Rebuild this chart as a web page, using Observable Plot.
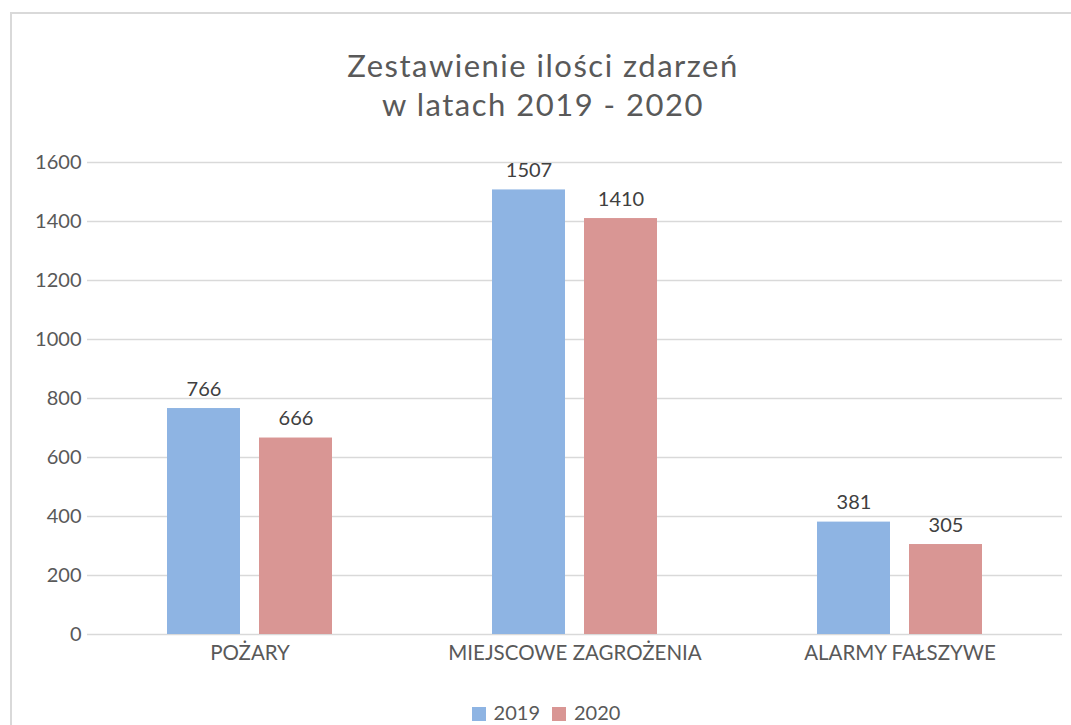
<!DOCTYPE html>
<html>
<head>
<meta charset="utf-8">
<script src="https://cdn.jsdelivr.net/npm/d3@7"></script>
<script src="https://cdn.jsdelivr.net/npm/@observablehq/plot@0.6"></script>
<style>
  html, body { margin: 0; padding: 0; background: #fff; width: 1071px; height: 725px; overflow: hidden; }
  body { position: relative; font-family: Lato, "Open Sans", sans-serif; color: #595959; }
  #frame { position: absolute; left: 10px; top: 12px; width: 1100px; height: 800px; border: 2px solid #d9d9d9; box-sizing: border-box; }
  #title { position: absolute; left: 0; width: 1086px; top: 46px; text-align: center; font-family: Lato, "Open Sans", sans-serif; font-size: 31px; letter-spacing: 1.5px; line-height: 39px; color: #595959; font-weight: 400; }
  #chart { position: absolute; left: 0; top: 130px; }
  #legend { position: absolute; left: 0; width: 1092px; top: 700px; text-align: center; font-size: 20px; line-height: 24px; color: #595959; }
  #legend span.item { display: inline-block; margin: 0 6px; }
  #legend span.sw { display: inline-block; width: 14px; height: 14px; margin-right: 8px; vertical-align: -1px; }
</style>
</head>
<body>
<div id="frame"></div>
<div id="title">Zestawienie ilości zdarzeń<br>w latach 2019 - 2020</div>
<div id="chart"></div>
<div id="legend"></div>
<script>
const categories = ["POŻARY", "MIEJSCOWE ZAGROŻENIA", "ALARMY FAŁSZYWE"];
const years = ["2019", "2020"];
const values2019 = [766, 1507, 381];
const values2020 = [666, 1410, 305];
const yTicks = [0, 200, 400, 600, 800, 1000, 1200, 1400, 1600];
const colors = ["#8EB4E3", "#D99694"];

const data = [];
categories.forEach((c, i) => {
  data.push({category: c, year: years[0], value: values2019[i]});
  data.push({category: c, year: years[1], value: values2020[i]});
});

const plot = Plot.plot({
  width: 1071,
  height: 550,
  marginLeft: 86,
  marginRight: 8,
  marginTop: 32,
  marginBottom: 46,
  style: {fontFamily: "Lato, 'Open Sans', sans-serif", fontSize: "20px", color: "#595959", background: "transparent"},
  fx: {domain: categories, paddingInner: 0, paddingOuter: 0, label: null},
  x: {domain: years, paddingInner: 0.204, paddingOuter: 0.853, align: 0.5, axis: null},
  y: {domain: [0, 1600], ticks: yTicks, label: null},
  color: {domain: years, range: colors},
  marks: [
    Plot.gridY(yTicks, {stroke: "#d9d9d9", strokeOpacity: 1, strokeWidth: 1.5}),
    Plot.axisY(yTicks, {tickSize: 0, tickPadding: 6, fontSize: 20, fill: "#595959", label: null, tickFormat: d => String(d)}),
    Plot.axisFx({anchor: "bottom", tickSize: 0, tickPadding: 11, fontSize: 20.5, fill: "#595959", label: null}),
    Plot.barY(data, {fx: "category", x: "year", y: "value", fill: "year"}),
    Plot.text(data, {fx: "category", x: "year", y: "value", text: d => String(d.value), dy: -13, lineAnchor: "bottom", fontSize: 20, fill: "#404040"})
  ]
});
document.getElementById("chart").appendChild(plot);

const legend = document.getElementById("legend");
years.forEach((y, i) => {
  const item = document.createElement("span");
  item.className = "item";
  const sw = document.createElement("span");
  sw.className = "sw";
  sw.style.background = colors[i];
  item.appendChild(sw);
  item.appendChild(document.createTextNode(y));
  legend.appendChild(item);
});
</script>
</body>
</html>
